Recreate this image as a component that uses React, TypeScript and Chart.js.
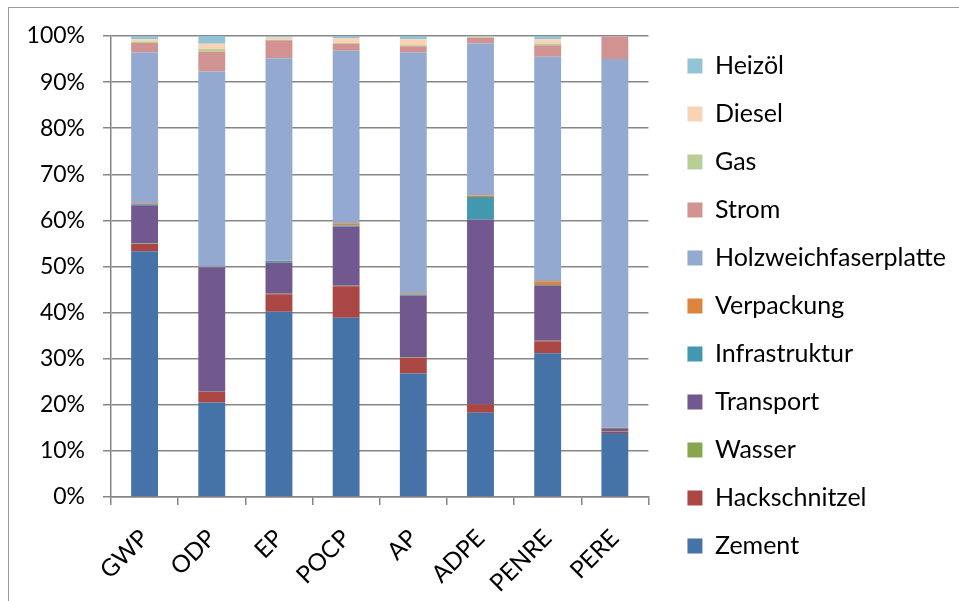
import React, { useEffect, useRef } from "react";
import { Chart, registerables } from "chart.js";

Chart.register(...registerables);

const categories = ["GWP", "ODP", "EP", "POCP", "AP", "ADPE", "PENRE", "PERE"];

const zement = [53.3, 20.5, 40.2, 38.9, 26.8, 18.3, 31.2, 13.9];
const hackschnitzel = [1.6, 2.3, 3.8, 6.8, 3.4, 1.8, 2.6, 0.3];
const wasser = [0.1, 0.05, 0.1, 0.1, 0.1, 0.1, 0.1, 0.1];
const transport = [8.3, 27.0, 6.7, 12.8, 13.4, 40.0, 11.9, 0.6];
const infrastruktur = [0.2, 0.05, 0.4, 0.3, 0.2, 4.9, 0.2, 0.1];
const verpackung = [0.2, 0.05, 0.1, 0.5, 0.3, 0.3, 0.8, 0.1];
const holzweichfaserplatte = [32.7, 42.35, 43.9, 37.4, 52.2, 33.0, 48.7, 79.9];
const strom = [2.1, 4.3, 3.9, 1.5, 1.4, 1.2, 2.5, 4.9];
const gas = [0.3, 0.6, 0.1, 0.2, 0.2, 0.2, 0.4, 0.0];
const diesel = [0.5, 1.1, 0.5, 1.0, 1.3, 0.1, 0.9, 0.05];
const heizoel = [0.7, 1.7, 0.3, 0.5, 0.7, 0.1, 0.7, 0.05];

const yTicks = [0, 10, 20, 30, 40, 50, 60, 70, 80, 90, 100];

const FONT = "Lato";
const GRID = "#868686";

export default function App() {
  const ref = useRef<HTMLCanvasElement | null>(null);

  useEffect(() => {
    if (!ref.current) return;
    const mk = (label: string, data: number[], color: string) => ({
      label,
      data,
      backgroundColor: color,
      borderWidth: 0,
      categoryPercentage: 1,
      barPercentage: 0.4,
      yAxisID: "y",
    });
    const chart = new Chart(ref.current, {
      type: "bar",
      data: {
        labels: categories,
        datasets: [
          mk("Zement", zement, "#4572A7"),
          mk("Hackschnitzel", hackschnitzel, "#AA4643"),
          mk("Wasser", wasser, "#89A54E"),
          mk("Transport", transport, "#71588F"),
          mk("Infrastruktur", infrastruktur, "#4198AF"),
          mk("Verpackung", verpackung, "#DB843D"),
          mk("Holzweichfaserplatte", holzweichfaserplatte, "#93A9CF"),
          mk("Strom", strom, "#D19392"),
          mk("Gas", gas, "#B9CD96"),
          mk("Diesel", diesel, "#FAD3B4"),
          mk("Heizöl", heizoel, "#92C4D6"),
        ],
      },
      options: {
        animation: false,
        responsive: false,
        maintainAspectRatio: false,
        layout: { padding: { top: 30.5, bottom: 0, left: 0, right: 3 } },
        plugins: {
          title: {
            display: true,
            text: "",
            padding: 0,
            font: { size: 5.5, lineHeight: 1 },
          },
          tooltip: { enabled: false },
          legend: {
            position: "right",
            align: "start",
            reverse: true,
            maxWidth: 400,
            labels: {
              boxWidth: 15,
              boxHeight: 15,
              padding: 23,
              color: "#000",
              font: { family: FONT, size: 25 },
            },
          },
        },
        scales: {
          x: {
            stacked: true,
            grid: {
              offset: true,
              drawOnChartArea: false,
              drawTicks: true,
              tickLength: 8,
              color: GRID,
              lineWidth: 1.5,
            },
            border: { color: GRID, width: 1.5 },
            ticks: {
              minRotation: 45,
              maxRotation: 45,
              padding: 19,
              color: "#000",
              font: { family: FONT, size: 24 },
            },
            afterFit: (s: any) => {
              s.height = 104;
            },
          },
          y: {
            stacked: true,
            min: 0,
            max: 100,
            afterBuildTicks: (s: any) => {
              s.ticks = yTicks.map((v) => ({ value: v }));
            },
            ticks: {
              padding: 18,
              color: "#000",
              font: { family: FONT, size: 23 },
              callback: (v: any) => v + "%",
            },
            grid: { color: GRID, lineWidth: 1.5, tickLength: 8 },
            border: { color: GRID, width: 1.5 },
            afterFit: (s: any) => {
              s.width = 111;
            },
          },
          y2: {
            position: "right",
            display: true,
            grid: { display: false },
            border: { display: false },
            ticks: { display: false },
            afterFit: (s: any) => {
              s.width = 16;
            },
          },
        },
      },
    } as any);
    return () => chart.destroy();
  }, []);

  return (
    <div
      style={{
        position: "fixed",
        left: 0,
        top: 0,
        width: 959,
        height: 601,
        overflow: "hidden",
        background: "#fff",
      }}
    >
      <div
        style={{
          position: "absolute",
          left: 8,
          top: 7,
          width: 1000,
          height: 1000,
          border: "1px solid #9a9a9a",
        }}
      />
      <canvas
        ref={ref}
        width={959}
        height={601}
        style={{ position: "absolute", left: 0, top: 0, width: 959, height: 601 }}
      />
    </div>
  );
}
